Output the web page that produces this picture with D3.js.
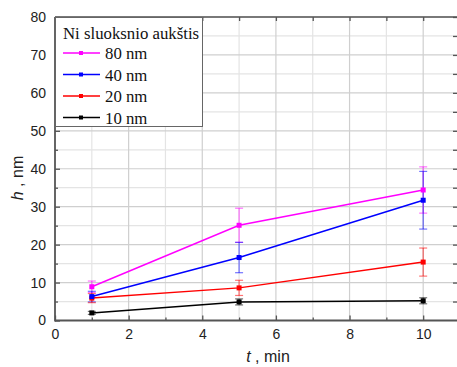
<!DOCTYPE html>
<html>
<head>
<meta charset="utf-8">
<script src="https://cdn.jsdelivr.net/npm/d3@7"></script>
<style>
  body { margin: 0; background: #fff; }
  svg { display: block; }
</style>
</head>
<body>
<svg id="chart" width="457" height="367"></svg>
<script>
// measured values
const times = [1, 5, 10];
const seriesNames = ["80 nm", "40 nm", "20 nm", "10 nm"];
const seriesColors = ["#ff00ff", "#0000ff", "#ff0000", "#000000"];
const h80 = [8.9, 25.1, 34.4];
const h40 = [6.3, 16.6, 31.7];
const h20 = [5.9, 8.6, 15.4];
const h10 = [2.0, 4.9, 5.2];
const e80 = [1.5, 4.5, 6.1];
const e40 = [1.4, 4.0, 7.6];
const e20 = [1.2, 2.0, 3.7];
const e10 = [0.4, 0.8, 0.8];
const xTicks = [0, 2, 4, 6, 8, 10];
const yTicks = [0, 10, 20, 30, 40, 50, 60, 70, 80];
const legendTitle = "Ni sluoksnio aukštis";

const series = [
  { name: seriesNames[0], color: seriesColors[0], vals: h80, errs: e80 },
  { name: seriesNames[1], color: seriesColors[1], vals: h40, errs: e40 },
  { name: seriesNames[2], color: seriesColors[2], vals: h20, errs: e20 },
  { name: seriesNames[3], color: seriesColors[3], vals: h10, errs: e10 }
];

const svg = d3.select("#chart");
const m = { left: 55, right: 457, top: 17, bottom: 320.5 };

const x = d3.scaleLinear().domain([0, 11]).range([m.left, m.right + 3]);
const y = d3.scaleLinear().domain([0, 80]).range([m.bottom, m.top]);

// grid
const grid = svg.append("g");
grid.selectAll(".gxm").data(d3.range(1, 11, 2)).join("line")
  .attr("x1", d => x(d)).attr("x2", d => x(d))
  .attr("y1", m.top).attr("y2", m.bottom)
  .attr("stroke", "#e4e4e4").attr("stroke-width", 1.2);
grid.selectAll(".gym").data(d3.range(5, 80, 10)).join("line")
  .attr("y1", d => y(d)).attr("y2", d => y(d))
  .attr("x1", m.left).attr("x2", m.right)
  .attr("stroke", "#e4e4e4").attr("stroke-width", 1.2);
grid.selectAll(".gx").data(xTicks.slice(1)).join("line")
  .attr("x1", d => x(d)).attr("x2", d => x(d))
  .attr("y1", m.top).attr("y2", m.bottom)
  .attr("stroke", "#cfcfcf").attr("stroke-width", 1.2);
grid.selectAll(".gy").data(yTicks.slice(1)).join("line")
  .attr("y1", d => y(d)).attr("y2", d => y(d))
  .attr("x1", m.left).attr("x2", m.right)
  .attr("stroke", "#cfcfcf").attr("stroke-width", 1.2);

// axes
const tickFont = "Liberation Sans, Arial, sans-serif";
const xAxis = d3.axisBottom(x).tickValues(xTicks).tickSize(-5).tickPadding(9);
svg.append("g").attr("transform", `translate(0,${m.bottom})`).call(xAxis);
const xMinor = d3.axisBottom(x).tickValues(d3.range(1, 11, 2)).tickSize(-3).tickFormat("");
svg.append("g").attr("transform", `translate(0,${m.bottom})`).call(xMinor);
const xTop = d3.axisTop(x).tickValues(d3.range(1, 11)).tickSize(-4).tickFormat("");
svg.append("g").attr("transform", `translate(0,${m.top})`).call(xTop);

const yAxis = d3.axisLeft(y).tickValues(yTicks).tickSize(-5).tickPadding(9);
svg.append("g").attr("transform", `translate(${m.left},0)`).call(yAxis);
const yMinor = d3.axisLeft(y).tickValues(d3.range(5, 80, 10)).tickSize(-3).tickFormat("");
svg.append("g").attr("transform", `translate(${m.left},0)`).call(yMinor);
const yRight = d3.axisRight(y).tickValues(d3.range(5, 85, 5)).tickSize(-4).tickFormat("");
svg.append("g").attr("transform", `translate(${m.right},0)`).call(yRight);

svg.selectAll(".domain").remove();
svg.selectAll(".tick line").attr("stroke", "#555").attr("stroke-width", 1.3);
svg.selectAll(".tick text").attr("font-family", tickFont).attr("font-size", 14).attr("fill", "#222");

// frame
svg.append("line").attr("x1", m.left).attr("x2", m.right).attr("y1", m.top).attr("y2", m.top)
  .attr("stroke", "#555").attr("stroke-width", 1.5);
svg.append("line").attr("x1", m.left).attr("x2", m.right).attr("y1", m.bottom).attr("y2", m.bottom)
  .attr("stroke", "#555").attr("stroke-width", 2);
svg.append("line").attr("x1", m.left).attr("x2", m.left).attr("y1", m.top).attr("y2", m.bottom + 1)
  .attr("stroke", "#555").attr("stroke-width", 1.8);

// error bars
series.forEach(s => {
  const g = svg.append("g").attr("stroke", s.color).attr("stroke-opacity", 0.55).attr("stroke-width", 1.2);
  times.forEach((t, i) => {
    const cx = x(t), lo = y(s.vals[i] - s.errs[i]), hi = y(s.vals[i] + s.errs[i]);
    g.append("line").attr("x1", cx).attr("x2", cx).attr("y1", lo).attr("y2", hi);
    g.append("line").attr("x1", cx - 4).attr("x2", cx + 4).attr("y1", lo).attr("y2", lo);
    g.append("line").attr("x1", cx - 4).attr("x2", cx + 4).attr("y1", hi).attr("y2", hi);
  });
});

// lines + markers
const line = d3.line().x((d, i) => x(times[i])).y(d => y(d));
series.slice().reverse().forEach(s => {
  svg.append("path").attr("d", line(s.vals)).attr("fill", "none")
    .attr("stroke", s.color).attr("stroke-width", 1.5);
  svg.append("g").selectAll("rect").data(s.vals).join("rect")
    .attr("x", (d, i) => x(times[i]) - 2.5).attr("y", d => y(d) - 2.5)
    .attr("width", 5).attr("height", 5).attr("fill", s.color);
});

// legend
const serif = "Liberation Serif, Times New Roman, serif";
const lg = svg.append("g");
lg.append("rect").attr("x", m.left + 0.5).attr("y", m.top + 0.5).attr("width", 147).attr("height", 109)
  .attr("fill", "#fff").attr("stroke", "#666").attr("stroke-width", 1);
lg.append("text").attr("x", 63).attr("y", 39).text(legendTitle)
  .attr("font-family", serif).attr("font-size", 16.8).attr("fill", "#111");
series.forEach((s, i) => {
  const ly = 53 + i * 21.5;
  lg.append("line").attr("x1", 63).attr("x2", 100).attr("y1", ly).attr("y2", ly)
    .attr("stroke", s.color).attr("stroke-width", 1.5);
  lg.append("rect").attr("x", 79).attr("y", ly - 2).attr("width", 4).attr("height", 4).attr("fill", s.color);
  lg.append("text").attr("x", 105).attr("y", ly + 6).text(s.name)
    .attr("font-family", serif).attr("font-size", 16.8).attr("fill", "#111");
});

// axis titles
const yt = svg.append("text").attr("transform", "translate(23,178) rotate(-90)")
  .attr("text-anchor", "middle").attr("font-family", tickFont).attr("font-size", 16).attr("fill", "#222");
yt.append("tspan").attr("font-style", "italic").text("h");
yt.append("tspan").text(" , nm");
const xt = svg.append("text").attr("x", 268).attr("y", 362)
  .attr("text-anchor", "middle").attr("font-family", tickFont).attr("font-size", 16).attr("fill", "#222");
xt.append("tspan").attr("font-style", "italic").text("t");
xt.append("tspan").text(" , min");
</script>
</body>
</html>
